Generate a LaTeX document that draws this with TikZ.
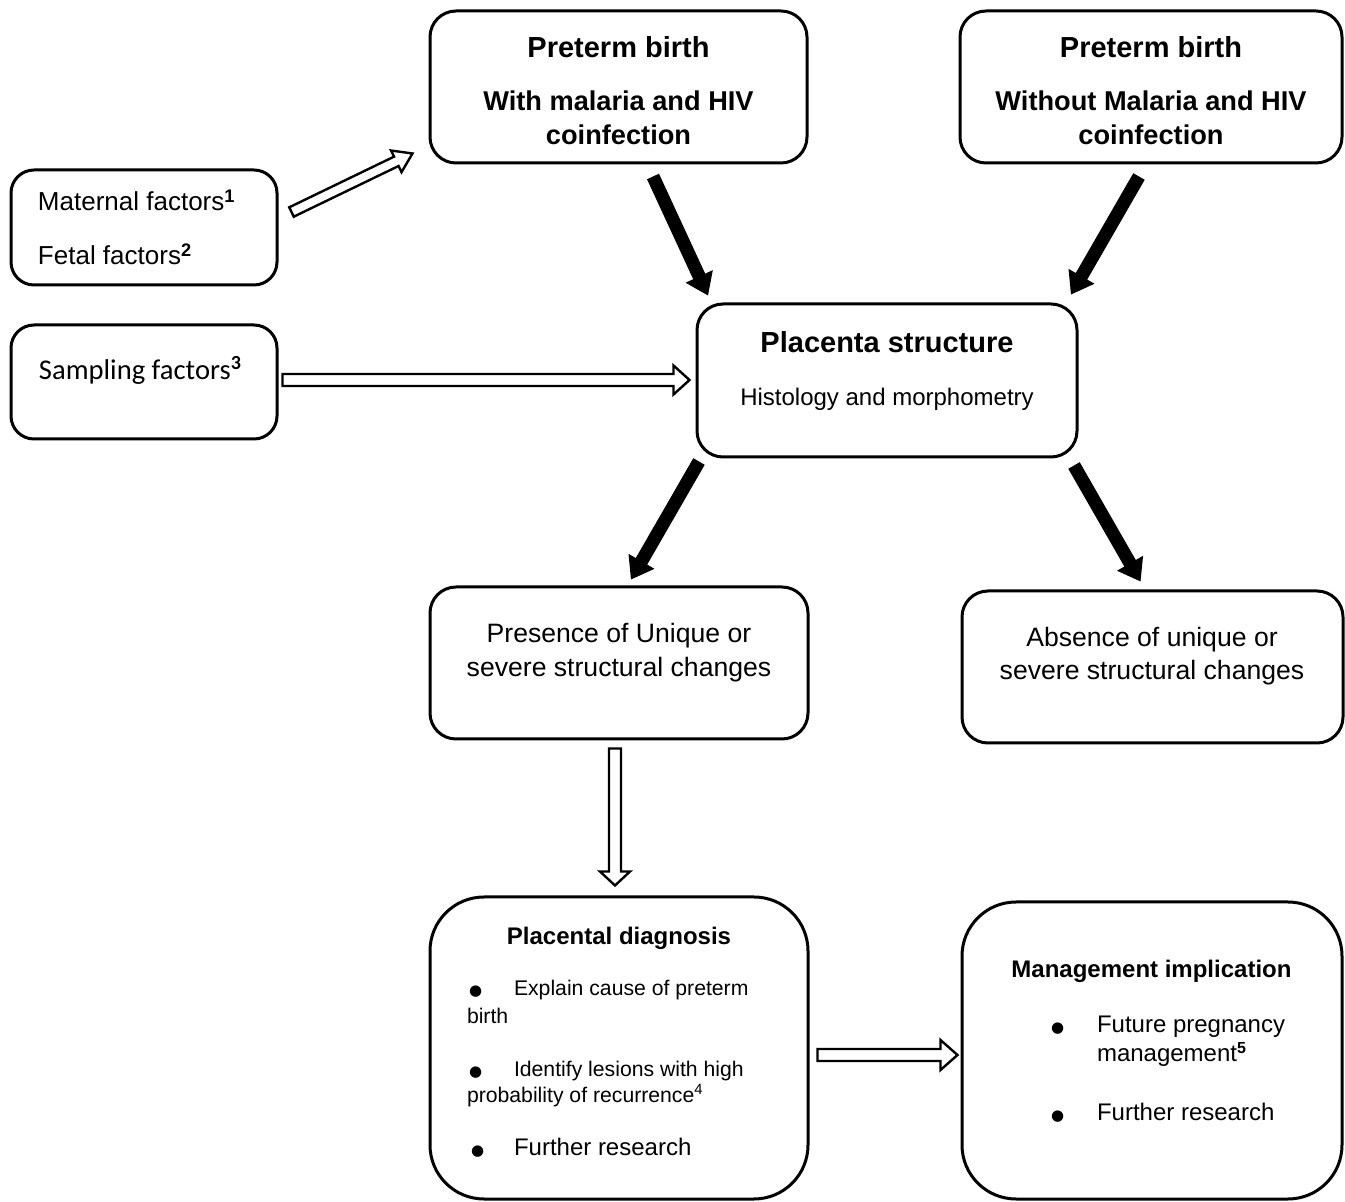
\documentclass[tikz,border=0pt]{standalone}
\usepackage{fontspec}
\setmainfont{Liberation Sans}
\newfontfamily\calib{Carlito}
\newfontfamily\dejavu{DejaVu Sans}
\usetikzlibrary{calc,fit}
\newcommand\fTitle{\fontsize{14.5pt}{17pt}\selectfont\bfseries}
\newcommand\fSub{\fontsize{13.6pt}{16pt}\selectfont\bfseries}
\newcommand\fMid{\fontsize{13.3pt}{16pt}\selectfont}
\newcommand\fHist{\fontsize{12pt}{14pt}\selectfont}
\newcommand\fBhead{\fontsize{12pt}{14pt}\selectfont\bfseries}
\newcommand\fSmall{\fontsize{10.6pt}{13pt}\selectfont}
\newcommand\fLeft{\fontsize{13pt}{15pt}\selectfont}
\newcommand\fCal{\calib\fontsize{14.3pt}{17pt}\selectfont}
\newcommand\bigbul[1]{\makebox[#1][l]{\dejavu\fontsize{7.5pt}{8pt}\selectfont ●}}
% #1 style, #2 start, #3 tip, #4 half shaft, #5 half head, #6 head length
\newcommand\polyarrow[6]{%
  \coordinate (hbase) at ($(#3)!#6!(#2)$);
  \draw[#1] ($(#2)!#4!90:(#3)$) -- ($(hbase)!#4!-90:(#2)$) -- ($(hbase)!#5!-90:(#2)$) -- (#3)
    -- ($(hbase)!#5!90:(#2)$) -- ($(hbase)!#4!90:(#2)$) -- ($(#2)!#4!-90:(#3)$) -- cycle;
}
\begin{document}
\begin{tikzpicture}[x=0.5pt,y=-0.5pt,
  box/.style={draw, line width=1.5pt, inner sep=0pt, rounded corners=13pt},
  txt/.style={inner sep=0pt, outer sep=0pt},
  hollow/.style={draw, fill=white, line width=1.2pt, line join=miter},
  solid/.style={fill=black, draw=none}]
\useasboundingbox (0,0) rectangle (1345,1202);
% boxes
\node[box, fit={(430,11) (807,163)}] (tl) {};
\node[box, fit={(960,11) (1342,163)}] (tr) {};
\node[box, fit={(697,304) (1077,457)}] (pc) {};
\node[box, fit={(430,587) (808,739)}] (ml) {};
\node[box, fit={(962,591) (1343,743)}] (mr) {};
\node[box, rounded corners=27pt, fit={(430,897) (808,1199)}] (bl) {};
\node[box, rounded corners=27pt, fit={(962,902) (1342,1199)}] (br) {};
\node[box, rounded corners=11.5pt, fit={(11,170) (277,285)}] (mat) {};
\node[box, rounded corners=11.5pt, fit={(11,325) (277,439)}] (samp) {};
% texts
\node[txt, anchor=base] (tl1) at (618.5,58) {\fTitle Preterm birth};
\node[txt, anchor=base] (tl2) at (618.5,111) {\fSub With malaria and HIV};
\node[txt, anchor=base] (tl3) at (618.5,145) {\fSub coinfection};
\node[txt, anchor=base] (tr1) at (1151,58) {\fTitle Preterm birth};
\node[txt, anchor=base] (tr2) at (1151,111) {\fSub Without Malaria and HIV};
\node[txt, anchor=base] (tr3) at (1151,145) {\fSub coinfection};
\node[txt, anchor=base] (pc1) at (887,353) {\fTitle Placenta structure};
\node[txt, anchor=base] (pc2) at (887,406) {\fHist Histology and morphometry};
\node[txt, anchor=base] (ml1) at (619,643) {\fMid Presence of Unique or};
\node[txt, anchor=base] (ml2) at (619,677) {\fMid severe structural changes};
\node[txt, anchor=base] (mr1) at (1152,647) {\fMid Absence of unique or};
\node[txt, anchor=base] (mr2) at (1152,680) {\fMid severe structural changes};
\node[txt, anchor=base west] (mat1) at (38,211) {\fLeft Maternal factors\textsuperscript{\textbf{1}}};
\node[txt, anchor=base west] (mat2) at (38,265) {\fLeft Fetal factors\textsuperscript{\textbf{2}}};
\node[txt, anchor=base west] (samp1) at (39,380) {\fCal Sampling factors\textsuperscript{\textbf{3}}};
\node[txt, anchor=base] (bl0) at (619,945) {\fBhead Placental diagnosis};
\node[txt, anchor=base west] (bl1) at (469,996) {\fSmall\bigbul{22.5pt}Explain cause of preterm};
\node[txt, anchor=base west] (bl2) at (467,1024) {\fSmall birth};
\node[txt, anchor=base west] (bl3) at (469,1076) {\fSmall\bigbul{22.5pt}Identify lesions with high};
\node[txt, anchor=base west] (bl4) at (467,1102) {\fSmall probability of recurrence\textsuperscript{4}};
\node[txt, anchor=base west] (bl5) at (471,1155) {\fHist\bigbul{21.5pt}Further research};
\node[txt, anchor=base] (br0) at (1151.5,978) {\fBhead Management implication};
\node[txt, anchor=base west] (br1) at (1051,1033) {\fHist\bigbul{23pt}Future pregnancy};
\node[txt, anchor=base west] (br2) at (1097,1062) {\fHist management\textsuperscript{\textbf{5}}};
\node[txt, anchor=base west] (br3) at (1051,1120) {\fHist\bigbul{23pt}Further research};
% black arrows
\coordinate (a1s) at ($(tl.south)+(34.5,12)$);
\coordinate (a1e) at ($(pc.north)+(-179,-7)$);
\polyarrow{solid}{a1s}{a1e}{3.3pt}{7.5pt}{10.5pt}
\coordinate (a2s) at ($(tr.south)+(-12,12)$);
\coordinate (a2e) at ($(pc.north)+(184,-8)$);
\polyarrow{solid}{a2s}{a2e}{3.3pt}{7.5pt}{10.5pt}
\coordinate (a3s) at ($(pc.south)+(-188,3)$);
\coordinate (a3e) at ($(ml.north)+(12,-6)$);
\polyarrow{solid}{a3s}{a3e}{3.3pt}{7.5pt}{10.5pt}
\coordinate (a4s) at ($(pc.south)+(187,7)$);
\coordinate (a4e) at ($(mr.north)+(-12,-8)$);
\polyarrow{solid}{a4s}{a4e}{3.3pt}{7.5pt}{10.5pt}
% hollow arrows
\coordinate (h1s) at ($(mat.east)+(13,-15.5)$);
\coordinate (h1e) at ($(tl.south west)+(-16,-11)$);
\polyarrow{hollow}{h1s}{h1e}{2.6pt}{6pt}{9pt}
\coordinate (h2s) at ($(samp.east)+(4,-2)$);
\coordinate (h2e) at ($(pc.west)+(-6,-0.5)$);
\polyarrow{hollow}{h2s}{h2e}{3pt}{7.25pt}{8pt}
\coordinate (h3s) at ($(ml.south)+(-4,8)$);
\coordinate (h3e) at ($(bl.north)+(-4,-10)$);
\polyarrow{hollow}{h3s}{h3e}{3pt}{7.5pt}{7pt}
\coordinate (h4s) at ($(bl.east)+(8,7)$);
\coordinate (h4e) at ($(br.west)+(-3,4.5)$);
\polyarrow{hollow}{h4s}{h4e}{3pt}{7.5pt}{8.5pt}
\end{tikzpicture}
\end{document}
